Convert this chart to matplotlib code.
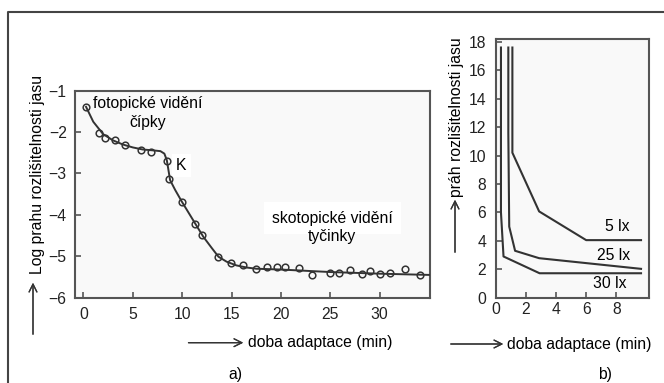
import matplotlib.pyplot as plt
from matplotlib.lines import Line2D

plt.rcParams['font.family'] = ['Liberation Sans', 'DejaVu Sans']
plt.rcParams['font.size'] = 11.3

# a) dark adaptation curve: measured points (min, log threshold)
pts_t = [0.27, 1.62, 2.23, 3.21, 4.22, 5.82, 6.83, 8.45, 8.71, 9.97, 11.32, 12.0,
         13.68, 14.96, 16.15, 17.5, 18.58, 19.6, 20.37, 21.85, 23.14, 25.0, 25.84,
         27.02, 28.2, 29.05, 30.0, 31.07, 32.6, 34.1]
pts_log = [-1.39, -2.01, -2.15, -2.19, -2.31, -2.43, -2.49, -2.71, -3.14, -3.68, -4.22, -4.49,
           -5.01, -5.17, -5.21, -5.31, -5.25, -5.27, -5.27, -5.29, -5.45, -5.40, -5.40,
           -5.33, -5.43, -5.35, -5.43, -5.40, -5.31, -5.45]
# fitted curve
fit_t = [0.27, 1.0, 2.0, 3.0, 4.0, 5.0, 6.0, 7.0, 7.8, 8.2, 8.45, 8.78, 9.3, 9.97,
         11.3, 12.15, 13.0, 13.68, 14.5, 15.5, 16.5, 17.5, 20.0, 25.0, 30.0, 35.1]
fit_log = [-1.39, -1.75, -2.05, -2.2, -2.3, -2.37, -2.42, -2.44, -2.46, -2.52, -2.68, -3.16, -3.4, -3.68,
           -4.2, -4.53, -4.8, -5.01, -5.13, -5.22, -5.27, -5.3, -5.32, -5.38, -5.42, -5.45]

# b) threshold vs adaptation time for three illuminances
lx5_t = [1.09, 1.09, 2.87, 6.0, 9.65]
lx5_v = [17.6, 10.2, 6.07, 4.05, 4.05]
lx25_t = [0.82, 0.82, 0.88, 1.27, 2.87, 9.65]
lx25_v = [17.6, 11.6, 5.0, 3.3, 2.78, 2.03]
lx30_t = [0.33, 0.33, 0.5, 2.9, 9.65]
lx30_v = [17.6, 6.0, 2.9, 1.72, 1.72]

W, H = 664, 383
fig = plt.figure(figsize=(W / 100, H / 100), dpi=100)
fig.patch.set_facecolor('white')

ink = '#333333'
spine = '#555555'


def style(ax, xpad, ypad):
    ax.set_facecolor('#f9f9f9')
    for s in ax.spines.values():
        s.set_color(spine)
        s.set_linewidth(1.5)
    ax.tick_params(direction='in', length=4, width=1.2, color=spine, labelcolor='#222222')
    ax.tick_params(axis='x', pad=xpad)
    ax.tick_params(axis='y', pad=ypad)


# panel a
ax1 = fig.add_axes([75 / W, 1 - 297.7 / H, 355 / W, 207 / H])
style(ax1, 7, 6)
ax1.plot(fit_t, fit_log, color=ink, lw=1.4, zorder=3)
ax1.plot(pts_t, pts_log, 'o', ms=4.8, mfc='none', mec=ink, mew=1.1, zorder=4)
ax1.set_xlim(-0.85, 35.1)
ax1.set_ylim(-6, -1)
ax1.set_xticks([0, 5, 10, 15, 20, 25, 30])
ax1.set_yticks([-1, -2, -3, -4, -5, -6])
ax1.text(6.56, -1.32, 'fotopické vidění', ha='center', va='center')
ax1.text(6.56, -1.76, 'čípky', ha='center', va='center')
ax1.text(9.9, -2.81, 'K', ha='center', va='center', zorder=2,
         bbox=dict(facecolor='white', edgecolor='none', pad=3))
ax1.text(25.2, -4.08, 'skotopické vidění', ha='center', va='center', zorder=2,
         bbox=dict(facecolor='white', edgecolor='none', pad=6))
ax1.text(25.2, -4.53, 'tyčinky', ha='center', va='center', zorder=2)

# panel b
ax2 = fig.add_axes([496 / W, 1 - 297.7 / H, 153.3 / W, 258.7 / H])
style(ax2, 3, 7)
for t, v in [(lx5_t, lx5_v), (lx25_t, lx25_v), (lx30_t, lx30_v)]:
    ax2.plot(t, v, color=ink, lw=1.5)
ax2.set_xlim(0, 10.2)
ax2.set_ylim(0, 18.2)
ax2.set_xticks([0, 2, 4, 6, 8])
ax2.set_yticks(range(0, 19, 2))
ax2.text(8.1, 5.0, '5 lx', ha='center', va='center')
ax2.text(7.8, 3.0, '25 lx', ha='center', va='center')
ax2.text(7.6, 1.0, '30 lx', ha='center', va='center')

# axis captions with arrows (figure pixels)
arr = dict(arrowstyle='->', color=ink, lw=0.9, mutation_scale=14)
fig.text(38 / W, 209 / H, 'Log prahu rozlišitelnosti jasu', rotation=90, ha='center', va='center')
fig.add_artist(plt.annotate('', xy=(33, 103), xytext=(33, 46), xycoords='figure pixels',
                            textcoords='figure pixels', arrowprops=arr))
fig.text(248 / W, 40.3 / H, 'doba adaptace (min)', ha='left', va='center')
fig.add_artist(plt.annotate('', xy=(246, 40.3), xytext=(185.7, 40.3), xycoords='figure pixels',
                            textcoords='figure pixels', arrowprops=arr))
fig.text(235 / W, 9 / H, 'a)', ha='center', va='center')

fig.text(457 / W, 266 / H, 'práh rozlišitelnosti jasu', rotation=90, ha='center', va='center')
fig.add_artist(plt.annotate('', xy=(455, 186), xytext=(455, 128), xycoords='figure pixels',
                            textcoords='figure pixels', arrowprops=arr))
fig.text(507 / W, 39 / H, 'doba adaptace (min)', ha='left', va='center')
fig.add_artist(plt.annotate('', xy=(506, 39), xytext=(448, 39), xycoords='figure pixels',
                            textcoords='figure pixels', arrowprops=arr))
fig.text(605 / W, 9 / H, 'b)', ha='center', va='center')

# outer frame (top and left edges)
fig.add_artist(Line2D([8 / W, 8 / W, 1], [0, 1 - 12 / H, 1 - 12 / H],
                      transform=fig.transFigure, color='#444444', lw=1.5))

fig.savefig('out.png', dpi=100)
